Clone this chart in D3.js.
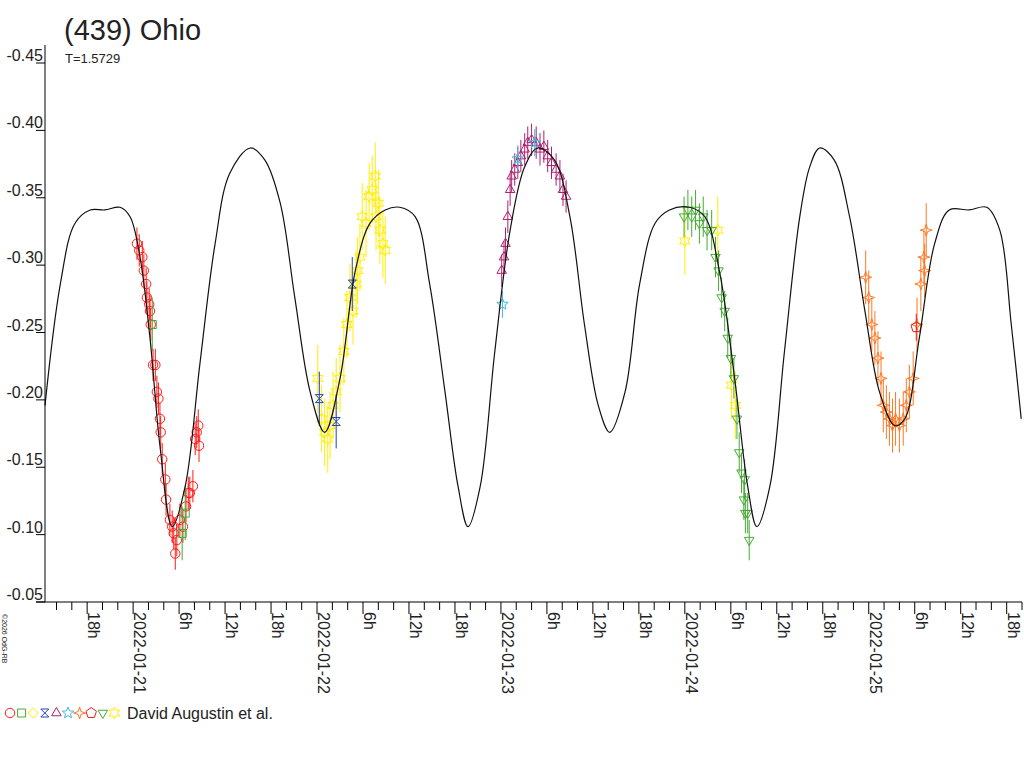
<!DOCTYPE html>
<html>
<head>
<meta charset="utf-8">
<script src="https://cdnjs.cloudflare.com/ajax/libs/d3/7.8.5/d3.min.js"></script>
<style>
  body { margin: 0; background: #fff; }
  text { font-family: "Liberation Sans", Arial, sans-serif; }
</style>
</head>
<body>
<svg id="chart" width="1024" height="768"></svg>
<script>
// hours since 2022-01-21 00:00, magnitude
var modelHours = [-11.5,-9.5,-7.6,-5.6,-3.7,-1.7,-0.4,0.9,2.2,3.5,5.1,6.8,8.7,10.7,12.6,15.3,17.2,19.2,21.1,23.1,25.0,27.0,29.0,30.9,32.9,34.8,36.8,38.7,40.7,42.4,43.7,45.3,47.2,49.2,51.1,52.8,55.0,57.0,58.9,60.7,62.2,64.2,66.1,68.1,70.0,72.6,74.6,76.5,78.5,80.2,81.4,83.1,85.0,87.0,88.3,89.6,91.5,93.5,95.5,97.4,99.4,100.7,102.6,104.6,106.5,109.1,111.4,113.1,114.6,115.9];
var modelMag = [-0.19,-0.28,-0.325,-0.335,-0.335,-0.337,-0.33,-0.30,-0.24,-0.16,-0.10,-0.13,-0.22,-0.31,-0.362,-0.381,-0.372,-0.34,-0.27,-0.20,-0.17,-0.21,-0.29,-0.325,-0.335,-0.337,-0.33,-0.28,-0.20,-0.13,-0.10,-0.13,-0.23,-0.32,-0.367,-0.381,-0.372,-0.33,-0.25,-0.19,-0.17,-0.20,-0.28,-0.325,-0.335,-0.337,-0.33,-0.29,-0.21,-0.13,-0.10,-0.13,-0.23,-0.33,-0.367,-0.381,-0.372,-0.33,-0.26,-0.20,-0.175,-0.18,-0.24,-0.31,-0.335,-0.335,-0.337,-0.32,-0.25,-0.18];

var redH = [0.5,0.8,1.2,1.4,1.7,1.8,2.1,2.2,2.3,2.6,2.9,3.1,3.3,3.5,3.6,3.8,4.2,4.3,4.8,5.1,5.3,5.5,5.7,6.1,6.5,6.9,7.2,7.4,7.8,8.1,8.3,8.6,8.5];
var redM = [-0.31,-0.305,-0.30,-0.29,-0.28,-0.27,-0.265,-0.26,-0.25,-0.22,-0.22,-0.20,-0.195,-0.18,-0.17,-0.15,-0.135,-0.12,-0.105,-0.10,-0.095,-0.08,-0.09,-0.105,-0.10,-0.115,-0.125,-0.125,-0.13,-0.165,-0.17,-0.16,-0.175];
var greenSqH = [2.5,6.8,6.4];
var greenSqM = [-0.25,-0.11,-0.095];
var yellowH = [24.1,24.6,25.0,25.4,25.7,26.1,26.5,27.0,27.5,27.9,28.3,28.7,29.1,29.6,29.9,30.4,30.8,31.2,31.6,32.0,32.2,32.6,32.9,31.7,29.3,72.0,76.3,78.1,78.6];
var yellowM = [-0.21,-0.18,-0.17,-0.165,-0.175,-0.19,-0.20,-0.21,-0.23,-0.25,-0.27,-0.26,-0.28,-0.30,-0.33,-0.325,-0.345,-0.35,-0.36,-0.34,-0.32,-0.31,-0.305,-0.33,-0.29,-0.312,-0.32,-0.205,-0.19];
var blueH = [24.3,26.5,28.6];
var blueM = [-0.195,-0.178,-0.28];
var magentaH = [48.1,48.4,48.6,48.9,49.2,49.4,49.8,50.2,50.6,51.1,51.5,52.0,52.6,53.1,53.6,54.1,54.6,55.2,55.7,56.1,56.5];
var magentaM = [-0.29,-0.30,-0.31,-0.33,-0.35,-0.36,-0.365,-0.37,-0.375,-0.38,-0.385,-0.387,-0.385,-0.38,-0.382,-0.375,-0.37,-0.365,-0.36,-0.35,-0.345];
var cyanH = [48.2,50.2,52.4];
var cyanM = [-0.265,-0.373,-0.385];
var greenTriH = [71.9,72.4,72.9,73.4,73.9,74.4,74.9,75.5,76.0,76.4,76.8,77.2,77.6,78.0,78.4,78.8,79.1,79.4,79.7,79.9,80.2,80.4,79.8];
var greenTriM = [-0.33,-0.335,-0.33,-0.335,-0.325,-0.33,-0.32,-0.32,-0.30,-0.29,-0.27,-0.26,-0.24,-0.225,-0.21,-0.18,-0.155,-0.14,-0.12,-0.11,-0.11,-0.09,-0.135];
var orangeH = [95.6,96.0,96.4,96.8,97.2,97.6,97.9,98.3,98.7,99.1,99.5,100.0,100.5,100.9,101.3,101.8,102.3,102.8,103.2,103.5,103.3];
var orangeM = [-0.285,-0.27,-0.25,-0.24,-0.225,-0.21,-0.19,-0.185,-0.18,-0.175,-0.18,-0.175,-0.18,-0.19,-0.20,-0.21,-0.25,-0.28,-0.30,-0.32,-0.29];
var pentH = [102.2];
var pentM = [-0.248];

var yTicks = [-0.45,-0.40,-0.35,-0.30,-0.25,-0.20,-0.15,-0.10,-0.05];
var days = ["2022-01-21","2022-01-22","2022-01-23","2022-01-24","2022-01-25"];

var svg = d3.select("#chart");
var x = d3.scaleLinear().domain([-11.5, 116]).range([45, 1022]);
var y = d3.scaleLinear().domain([-0.45, -0.05]).range([55, 594]);

// custom symbol paths
function poly(n, r, rot) {
  var p = [];
  for (var i = 0; i < n; i++) { var a = rot + i * 2 * Math.PI / n; p.push([r * Math.sin(a), -r * Math.cos(a)]); }
  return "M" + p.join("L") + "Z";
}
function star(n, r1, r2) {
  var p = [];
  for (var i = 0; i < 2 * n; i++) { var r = i % 2 ? r2 : r1, a = i * Math.PI / n; p.push([r * Math.sin(a), -r * Math.cos(a)]); }
  return "M" + p.join("L") + "Z";
}
var shapes = {
  circle: d3.symbol(d3.symbolCircle, 70)(),
  square: "M-4,-4L4,-4L4,4L-4,4Z",
  diamond: poly(4, 5, 0),
  hourglass: "M-4,-4L4,-4L-4,4L4,4Z",
  triangle: poly(3, 5.5, 0),
  star5: star(5, 6, 2.6),
  star4: star(4, 6, 2),
  pentagon: poly(5, 5.5, 0),
  tridown: poly(3, 5.5, Math.PI),
  star6: star(6, 6, 3.2)
};

var sets = [
  {h: redH, m: redM, c: "#ff1a1a", s: "circle", e: 0.012},
  {h: greenSqH, m: greenSqM, c: "#44aa33", s: "square", e: 0.02},
  {h: yellowH, m: yellowM, c: "#ffee00", s: "star6", e: 0.025},
  {h: blueH, m: blueM, c: "#2244bb", s: "hourglass", e: 0.02},
  {h: magentaH, m: magentaM, c: "#b0206e", s: "triangle", e: 0.012},
  {h: cyanH, m: cyanM, c: "#44bbdd", s: "star5", e: 0.01},
  {h: greenTriH, m: greenTriM, c: "#44aa33", s: "tridown", e: 0.015},
  {h: orangeH, m: orangeM, c: "#ff7722", s: "star4", e: 0.02},
  {h: pentH, m: pentM, c: "#dd2222", s: "pentagon", e: 0.01}
];
var legendItems = [
  ["circle", "#ff1a1a"], ["square", "#44aa33"], ["diamond", "#ffee00"], ["hourglass", "#2244bb"],
  ["triangle", "#b0206e"], ["star5", "#44bbdd"], ["star4", "#ff7722"], ["pentagon", "#dd2222"],
  ["tridown", "#44aa33"], ["star6", "#ffee00"]
];

sets.forEach(function(st) {
  var g = svg.append("g");
  var pts = d3.zip(st.h, st.m);
  g.selectAll("line").data(pts).join("line")
    .attr("x1", d => x(d[0])).attr("x2", d => x(d[0]))
    .attr("y1", d => y(d[1] - st.e)).attr("y2", d => y(d[1] + st.e))
    .attr("stroke", st.c).attr("stroke-width", 1);
  g.selectAll("path").data(pts).join("path")
    .attr("transform", d => "translate(" + x(d[0]) + "," + y(d[1]) + ")")
    .attr("d", shapes[st.s]).attr("fill", "none").attr("stroke", st.c).attr("stroke-width", 1);
});

// model curve
svg.append("path")
  .datum(d3.zip(modelHours, modelMag))
  .attr("fill", "none").attr("stroke", "#111").attr("stroke-width", 1.2)
  .attr("d", d3.line().x(d => x(d[0])).y(d => y(d[1])).curve(d3.curveCatmullRom));

// y axis
svg.append("line").attr("x1", 45).attr("x2", 45).attr("y1", 45).attr("y2", 602).attr("stroke", "#000");
yTicks.forEach(function(t) {
  svg.append("line").attr("x1", 36).attr("x2", 45).attr("y1", y(t) + 8).attr("y2", y(t) + 8).attr("stroke", "#000");
  svg.append("text").attr("x", 43).attr("y", y(t) + 6).attr("text-anchor", "end")
    .attr("font-size", 16).attr("fill", "#222").text(t.toFixed(2));
});

// x axis
svg.append("line").attr("x1", 36).attr("x2", 1022).attr("y1", 602).attr("y2", 602).attr("stroke", "#000");
for (var hh = -10; hh <= 116; hh += 2) {
  var major = (((hh % 6) + 6) % 6) === 0;
  svg.append("line").attr("x1", x(hh)).attr("x2", x(hh)).attr("y1", 602).attr("y2", major ? 614 : 610).attr("stroke", "#000");
  if (major) {
    var hod = ((hh % 24) + 24) % 24;
    var lab = hod === 0 ? days[hh / 24] : hod + "h";
    if (lab) svg.append("text").attr("transform", "translate(" + (x(hh) + 1) + ",612) rotate(90)")
      .attr("font-size", 16).attr("fill", "#222").text(lab);
  }
}

// titles
svg.append("text").attr("x", 64).attr("y", 40).attr("font-size", 29).attr("fill", "#222").text("(439) Ohio");
svg.append("text").attr("x", 65).attr("y", 63).attr("font-size", 13).attr("fill", "#222").text("T=1.5729");
svg.append("text").attr("transform", "translate(2,614) rotate(90)").attr("font-size", 7).attr("fill", "#222").text("©2026 OdG-RB");

// legend
var lx = 10;
legendItems.forEach(function(it) {
  svg.append("path").attr("transform", "translate(" + lx + ",713)").attr("d", shapes[it[0]])
    .attr("fill", "none").attr("stroke", it[1]);
  lx += 11.6;
});
svg.append("text").attr("x", 127).attr("y", 719).attr("font-size", 16).attr("fill", "#222").text("David Augustin et al.");
</script>
</body>
</html>
